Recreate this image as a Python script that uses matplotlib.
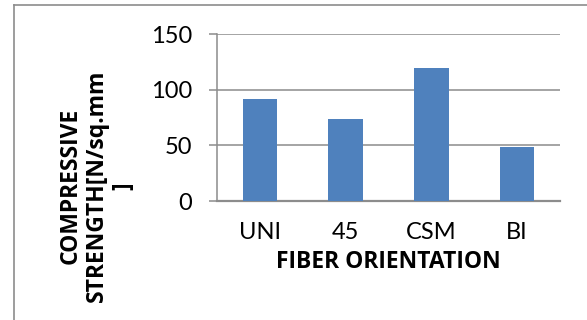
import matplotlib
matplotlib.use("Agg")
import matplotlib.pyplot as plt
from matplotlib.lines import Line2D

categories = ["UNI", "45", "CSM", "BI"]
strength = [92, 74, 120, 49]
y_ticks = [0, 50, 100, 150]

plt.rcParams["font.family"] = ["Lato", "DejaVu Sans"]
LABEL_FONT = ["Open Sans", "DejaVu Sans"]

W, H = 587, 320
FS = 17
LFS = 16.5
fig = plt.figure(figsize=(W / 100, H / 100), dpi=100)
ax = fig.add_axes([217 / W, 1 - 201 / H, (560 - 217) / W, (201 - 34.3) / H])

x = range(len(categories))
ax.bar(x, strength, width=0.4, color="#4F81BD", zorder=3)

ax.set_xlim(-0.5, len(categories) - 0.5)
ax.set_ylim(0, 150)
ax.set_yticks(y_ticks)
ax.set_yticklabels([str(v) for v in y_ticks], fontsize=FS)
ax.set_xticks(list(x))
ax.set_xticklabels(categories, fontsize=FS)

grid_color = "#8C8C8C"
ax.yaxis.grid(True, color=grid_color, linewidth=1.1, zorder=0)
for side in ("top", "right"):
    ax.spines[side].set_visible(False)
ax.spines["left"].set_color(grid_color)
ax.spines["left"].set_linewidth(1.1)
ax.spines["bottom"].set_color(grid_color)
ax.spines["bottom"].set_linewidth(1.6)
ax.tick_params(axis="y", length=6, width=1.1, color=grid_color, pad=12)
ax.tick_params(axis="x", length=0, pad=15)

ax.set_xlabel("FIBER ORIENTATION", fontsize=LFS, fontweight="bold", family=LABEL_FONT,
              labelpad=5)
fig.text(97 / W, 1 - 186 / H, "COMPRESSIVE\nSTRENGTH[N/sq.mm\n]", rotation=90,
         ha="center", va="center", multialignment="center", family=LABEL_FONT,
         fontsize=LFS, fontweight="bold", linespacing=1.15)

# chart frame (left and top edges)
frame_c = "#8C8C8C"
fig.add_artist(Line2D([13.5 / W, 13.5 / W], [0, 1 - 4.5 / H], transform=fig.transFigure,
                      color=frame_c, linewidth=1.2))
fig.add_artist(Line2D([13.5 / W, 1], [1 - 4.5 / H, 1 - 4.5 / H], transform=fig.transFigure,
                      color=frame_c, linewidth=1.2))

fig.savefig("out.png", dpi=100, facecolor="white")
